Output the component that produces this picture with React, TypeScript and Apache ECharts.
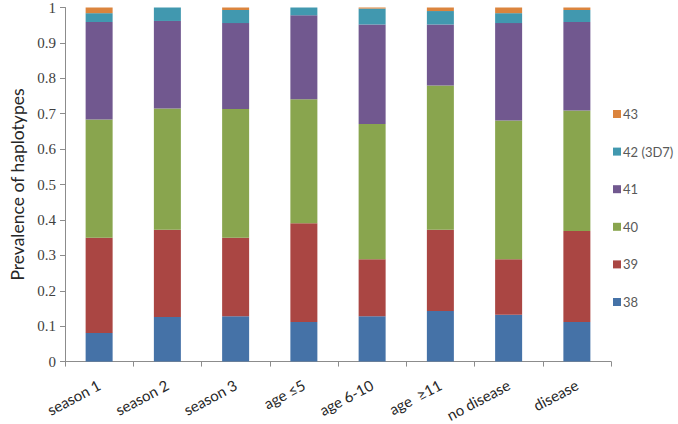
import React, { useEffect, useRef } from "react";
import * as echarts from "echarts";

const categories = ["season 1", "season 2", "season 3", "age \u22645", "age 6-10", "age  \u226511", "no disease", "disease"];
const seriesNames = ["38", "39", "40", "41", "42 (3D7)", "43"];
const h38 = [0.081, 0.126, 0.128, 0.112, 0.128, 0.143, 0.132, 0.112];
const h39 = [0.269, 0.246, 0.222, 0.279, 0.161, 0.229, 0.157, 0.257];
const h40 = [0.334, 0.343, 0.363, 0.350, 0.382, 0.408, 0.392, 0.340];
const h41 = [0.275, 0.247, 0.243, 0.237, 0.281, 0.172, 0.275, 0.250];
const h42 = [0.025, 0.038, 0.037, 0.022, 0.045, 0.038, 0.028, 0.034];
const h43 = [0.016, 0.0, 0.007, 0.0, 0.003, 0.010, 0.016, 0.007];
const colors = ["#4572A7", "#AA4643", "#89A54E", "#71588F", "#4198AF", "#DB843D"];

export default function App() {
  const ref = useRef<HTMLDivElement>(null);
  useEffect(() => {
    if (!ref.current) return;
    const chart = echarts.init(ref.current, undefined, { renderer: "svg" });
    const data = [h38, h39, h40, h41, h42, h43];
    chart.setOption({
      animation: false,
      grid: { left: 65, right: 67, top: 7, bottom: 61, containLabel: false },
      legend: {
        orient: "vertical",
        left: 613,
        top: 107,
        padding: 0,
        itemWidth: 8,
        itemHeight: 8,
        itemGap: 23.6,
        icon: "rect",
        data: [...seriesNames].reverse(),
        textStyle: { fontFamily: "Lato", fontSize: 13, color: "#595959", lineHeight: 14, padding: [0, 0, 0, -3] },
      },
      xAxis: {
        type: "category",
        data: categories,
        axisLine: { lineStyle: { color: "#8c8c8c", width: 1 } },
        axisTick: { show: true, length: 5, lineStyle: { color: "#8c8c8c" } },
        axisLabel: { rotate: 28, fontFamily: "Lato", fontSize: 15, color: "#262626", margin: 22, interval: 0, align: "right", verticalAlign: "middle" },
      },
      yAxis: {
        type: "value",
        min: 0,
        max: 1,
        interval: 0.1,
        name: "Prevalence of haplotypes",
        nameLocation: "middle",
        nameGap: 38,
        nameTextStyle: { fontFamily: "Lato", fontSize: 17.5, color: "#262626" },
        splitLine: { show: false },
        axisLine: { show: true, lineStyle: { color: "#8c8c8c", width: 1 } },
        axisTick: { show: true, length: 5, lineStyle: { color: "#8c8c8c" } },
        axisLabel: { fontFamily: "Liberation Serif", fontSize: 15, color: "#404040", margin: 9 },
      },
      series: seriesNames.map((name, i) => ({
        name,
        type: "bar",
        stack: "total",
        barWidth: 27,
        data: data[i],
        itemStyle: { color: colors[i] },
      })),
    });
    return () => chart.dispose();
  }, []);
  return <div ref={ref} style={{ width: 678, height: 424, position: "absolute", left: 0, top: 0 }} />;
}
